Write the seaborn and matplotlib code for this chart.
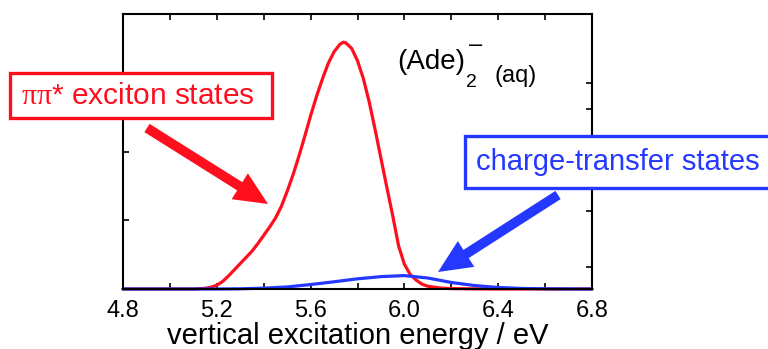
import matplotlib
matplotlib.use("Agg")
import matplotlib.pyplot as plt
import matplotlib.patches as mpatches
import numpy as np
import pandas as pd
import seaborn as sns

# ---- data ----
red_energy = [4.80, 5.10, 5.15, 5.175, 5.20, 5.225, 5.25, 5.275, 5.30, 5.325, 5.35, 5.375,
              5.40, 5.425, 5.45, 5.475, 5.50, 5.525, 5.55, 5.575, 5.60, 5.625, 5.65, 5.675,
              5.70, 5.725, 5.74, 5.75, 5.775, 5.80, 5.825, 5.85, 5.875, 5.90, 5.925, 5.95,
              5.975, 6.00, 6.025, 6.05, 6.075, 6.10, 6.15, 6.20, 6.30, 6.40, 6.80]
red_value = [0.0, 0.0, 0.01, 0.025, 0.055, 0.11, 0.19, 0.28, 0.37, 0.46, 0.55, 0.66,
             0.78, 0.90, 1.03, 1.20, 1.42, 1.66, 1.93, 2.22, 2.52, 2.80, 3.05, 3.28,
             3.45, 3.56, 3.59, 3.58, 3.50, 3.32, 3.06, 2.72, 2.32, 1.90, 1.48, 1.07,
             0.63, 0.36, 0.21, 0.13, 0.07, 0.04, 0.015, 0.006, 0.002, 0.0, 0.0]

blue_energy = [4.8, 5.2, 5.3, 5.4, 5.5, 5.6, 5.7, 5.8, 5.9, 6.0, 6.1, 6.2, 6.3, 6.4, 6.5, 6.6, 6.7, 6.8]
blue_value = [0.0, 0.0, 0.003, 0.012, 0.03, 0.065, 0.105, 0.148, 0.18, 0.195, 0.16, 0.095,
              0.05, 0.022, 0.008, 0.003, 0.001, 0.0]

xticks_major = [4.8, 5.2, 5.6, 6.0, 6.4, 6.8]
xtick_labels = ["4.8", "5.2", "5.6", "6.0", "6.4", "6.8"]
xticks_minor = [5.0, 5.4, 5.8, 6.2, 6.6]
yticks_left = [1, 2, 3]
yticks_right = [0.32, 1.13, 2.62, 3.0]

RED = "#ff0f1e"
BLUE = "#2438ff"

sns.set_style("ticks")
plt.rcParams["font.family"] = ["Liberation Sans", "DejaVu Sans"]
plt.rcParams["mathtext.fontset"] = "custom"
plt.rcParams["mathtext.it"] = "Liberation Serif"
plt.rcParams["mathtext.rm"] = "Liberation Sans"
plt.rcParams["text.color"] = "black"
plt.rcParams["axes.labelcolor"] = "black"
plt.rcParams["xtick.color"] = "black"
plt.rcParams["ytick.color"] = "black"

W, H = 768, 349
fig = plt.figure(figsize=(W / 100, H / 100), dpi=100)
ax = fig.add_axes([123 / W, 1 - 289 / H, (592 - 123) / W, (289 - 14) / H])

df_red = pd.DataFrame({"E": red_energy, "I": red_value})
df_blue = pd.DataFrame({"E": blue_energy, "I": blue_value})
sns.lineplot(data=df_red, x="E", y="I", ax=ax, color=RED, lw=2.3, clip_on=False, sort=True)
sns.lineplot(data=df_blue, x="E", y="I", ax=ax, color=BLUE, lw=2.3, clip_on=False, sort=True)

ax.set_xlim(4.8, 6.8)
ax.set_ylim(0, 4)
ax.set_xticks(xticks_major)
ax.set_xticklabels(xtick_labels, fontsize=17, color="black")
ax.set_xticks(xticks_minor, minor=True)
ax.set_yticks(yticks_left)
ax.set_yticklabels([])
ax.set_ylabel("")
ax.set_xlabel("vertical excitation energy / eV", fontsize=21, labelpad=0, color="black")
ax.tick_params(axis="x", which="both", direction="in", top=True, length=4.5, width=1.2, pad=8,
               labelcolor="black")
ax.tick_params(axis="y", which="both", direction="in", left=True, right=False, length=4.5, width=1.2)
for s in ax.spines.values():
    s.set_linewidth(1.5)
    s.set_color("black")

ax2 = ax.twinx()
ax2.set_ylim(0, 4)
ax2.set_yticks(yticks_right)
ax2.set_yticklabels([])
ax2.tick_params(axis="y", direction="in", length=4.5, width=1.2)
for s in ax2.spines.values():
    s.set_visible(False)


def fx(x):
    return x / W


def fy(y):
    return 1 - y / H


# boxes
fig.add_artist(mpatches.Rectangle((fx(10), fy(118)), fx(272) - fx(10), fy(73) - fy(118),
                                  transform=fig.transFigure, fill=True, facecolor="white",
                                  edgecolor=RED, lw=2.4, clip_on=False, zorder=5))
fig.text(fx(21), fy(96), r"$\pi\pi$* exciton states", color=RED, fontsize=21.5,
         ha="left", va="center", zorder=6)

fig.add_artist(mpatches.Rectangle((fx(465), fy(188)), fx(800) - fx(465), fy(136) - fy(188),
                                  transform=fig.transFigure, fill=True, facecolor="white",
                                  edgecolor=BLUE, lw=2.4, clip_on=False, zorder=5))
fig.text(fx(476), fy(162), "charge-transfer states", color=BLUE, fontsize=21,
         ha="left", va="center", zorder=6)

# arrows
fig.add_artist(mpatches.FancyArrowPatch((fx(147), fy(128)), (fx(268), fy(204)),
                                        transform=fig.transFigure,
                                        arrowstyle="simple,head_length=24,head_width=22,tail_width=7",
                                        mutation_scale=1, color=RED, lw=0, shrinkA=0, shrinkB=0, zorder=6))
fig.add_artist(mpatches.FancyArrowPatch((fx(558), fy(195)), (fx(438), fy(272)),
                                        transform=fig.transFigure,
                                        arrowstyle="simple,head_length=24,head_width=22,tail_width=7",
                                        mutation_scale=1, color=BLUE, lw=0, shrinkA=0, shrinkB=0, zorder=6))

# species label
fig.text(fx(397), fy(69), "(Ade)", fontsize=20, color="black", ha="left", va="baseline")
fig.text(fx(466), fy(87), "2", fontsize=14, color="black", ha="left", va="baseline")
fig.text(fx(469), fy(51), "\u2013", fontsize=17, color="black", ha="left", va="baseline")
fig.text(fx(495), fy(82), "(aq)", fontsize=17, color="black", ha="left", va="baseline")

fig.savefig("out.png", dpi=100)
